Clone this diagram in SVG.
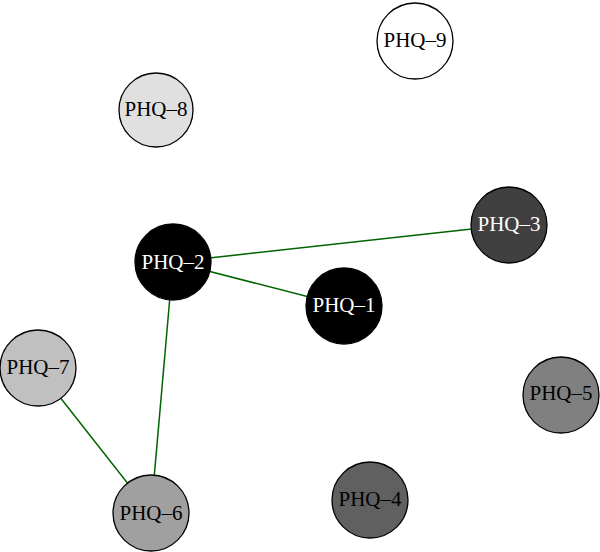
<svg xmlns="http://www.w3.org/2000/svg" width="600" height="552" viewBox="0 0 600 552">
<style>
.e{stroke:#006400;stroke-width:1.5;fill:none}
.n{stroke:#000;stroke-width:1.3}
.t{font-family:"Liberation Serif","DejaVu Serif",serif;font-size:21px;text-anchor:middle;dominant-baseline:central}
.w{fill:#fff}
.k{fill:#000}
</style>
<rect width="600" height="552" fill="#fff"/>
<g id="edges">
<line class="e" x1="173" y1="262" x2="508" y2="225"/>
<line class="e" x1="173" y1="262" x2="344" y2="306"/>
<line class="e" x1="173" y1="262" x2="151" y2="513"/>
<line class="e" x1="37" y1="368" x2="151" y2="513"/>
</g>
<g id="PHQ-9"><circle class="n" cx="415" cy="41" r="38" fill="#ffffff"/><text class="t k" x="415" y="40">PHQ–9</text></g>
<g id="PHQ-8"><circle class="n" cx="156" cy="110" r="37" fill="#e0e0e0"/><text class="t k" x="156" y="109">PHQ–8</text></g>
<g id="PHQ-3"><circle class="n" cx="509" cy="225" r="38" fill="#404040"/><text class="t w" x="509" y="224">PHQ–3</text></g>
<g id="PHQ-2"><circle class="n" cx="173" cy="262" r="38" fill="#000000"/><text class="t w" x="173" y="262">PHQ–2</text></g>
<g id="PHQ-1"><circle class="n" cx="344" cy="306" r="38" fill="#000000"/><text class="t w" x="344" y="305">PHQ–1</text></g>
<g id="PHQ-7"><circle class="n" cx="38" cy="368" r="38" fill="#c0c0c0"/><text class="t k" x="38" y="367">PHQ–7</text></g>
<g id="PHQ-5"><circle class="n" cx="561" cy="395" r="38" fill="#808080"/><text class="t k" x="561" y="393">PHQ–5</text></g>
<g id="PHQ-4"><circle class="n" cx="370" cy="500" r="38" fill="#606060"/><text class="t k" x="370" y="499">PHQ–4</text></g>
<g id="PHQ-6"><circle class="n" cx="151" cy="513" r="38" fill="#a0a0a0"/><text class="t k" x="151" y="513">PHQ–6</text></g>
</svg>
